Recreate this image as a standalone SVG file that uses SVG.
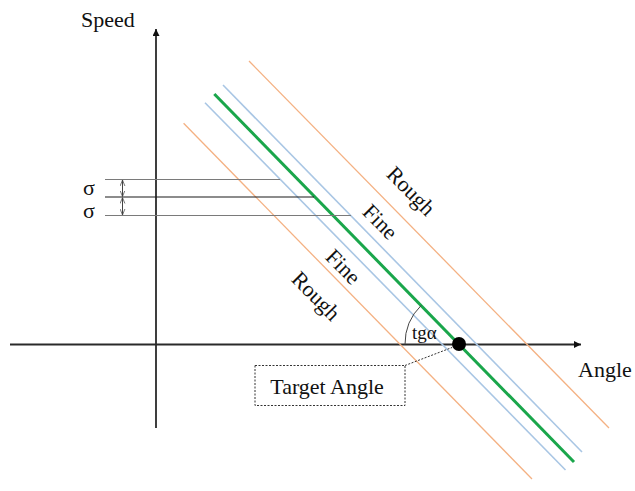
<svg xmlns="http://www.w3.org/2000/svg" width="635" height="491" viewBox="0 0 635 491">
<style>
text{font-family:"Liberation Serif","Times New Roman",serif;fill:#111}
.axis{stroke:#2a2a2a;stroke-width:1.8;fill:none}
.orange{stroke:#f4b183;stroke-width:1.3;fill:none}
.blue{stroke:#a9c6e4;stroke-width:1.6;fill:none}
.green{stroke:#1aa64b;stroke-width:3;fill:none}
.hg{stroke:#7a7a7a;stroke-width:1.2}
.hb{stroke:#1a1a1a;stroke-width:1.2}
.dim{stroke:#444;stroke-width:1;fill:none}
.lbl{font-size:22px;text-anchor:middle}
</style>
<defs>
<marker id="ah" viewBox="0 0 10 10" refX="10" refY="5" markerWidth="7" markerHeight="7" markerUnits="userSpaceOnUse" orient="auto">
<path d="M0,0 L10,5 L0,10 z" fill="#111"/>
</marker>
<marker id="oh" viewBox="0 0 10 10" refX="10" refY="5" markerWidth="6" markerHeight="6" markerUnits="userSpaceOnUse" orient="auto-start-reverse">
<path d="M0,1 L10,5 L0,9" fill="none" stroke="#444" stroke-width="1.2"/>
</marker>
</defs>
<g id="axes">
<line class="axis" x1="156" y1="428" x2="156" y2="29" marker-end="url(#ah)"/>
<line class="axis" x1="10" y1="344.5" x2="581" y2="344.5" marker-end="url(#ah)"/>
</g>
<g id="bands">
<line class="orange" x1="249" y1="61" x2="609" y2="428"/>
<line class="orange" x1="183.6" y1="123.3" x2="532" y2="479"/>
<line class="blue" x1="223" y1="85" x2="582" y2="452"/>
<line class="blue" x1="205" y1="102.7" x2="565.5" y2="470"/>
<line class="green" x1="214.3" y1="94" x2="574" y2="462"/>
</g>
<g id="sigma">
<line class="hg" x1="105" y1="179.5" x2="280" y2="179.5"/>
<line class="hb" x1="105" y1="197" x2="314" y2="197"/>
<line class="hg" x1="105" y1="215.5" x2="351" y2="215.5"/>
<line class="dim" x1="122.5" y1="180" x2="122.5" y2="196.5" marker-start="url(#oh)" marker-end="url(#oh)"/>
<line class="dim" x1="122.5" y1="197.5" x2="122.5" y2="215" marker-start="url(#oh)" marker-end="url(#oh)"/>
<text x="89" y="195" font-size="22" text-anchor="middle">σ</text>
<text x="89" y="218" font-size="22" text-anchor="middle">σ</text>
</g>
<g id="angle">
<path class="dim" d="M405 344.5 A54 54 0 0 1 421.2 305.4" stroke="#333"/>
<text x="412" y="339" font-size="19">tgα</text>
<circle cx="459" cy="344" r="7" fill="#000"/>
</g>
<g id="target">
<rect x="255" y="365.5" width="150" height="40" fill="none" stroke="#333" stroke-width="1" stroke-dasharray="2,1.5"/>
<line x1="405" y1="365.5" x2="452" y2="347.5" stroke="#333" stroke-width="1" stroke-dasharray="2,1.5"/>
<text x="327" y="394" font-size="22" text-anchor="middle">Target Angle</text>
</g>
<g id="labels">
<text x="108" y="27" font-size="22" text-anchor="middle">Speed</text>
<text x="605" y="377" font-size="22" text-anchor="middle">Angle</text>
<text class="lbl" transform="translate(410,192) rotate(45.5)" y="6">Rough</text>
<text class="lbl" transform="translate(380,222) rotate(45.5)" y="7">Fine</text>
<text class="lbl" transform="translate(343,267) rotate(45.5)" y="7">Fine</text>
<text class="lbl" transform="translate(315,297) rotate(45.5)" y="6">Rough</text>
</g>
</svg>
